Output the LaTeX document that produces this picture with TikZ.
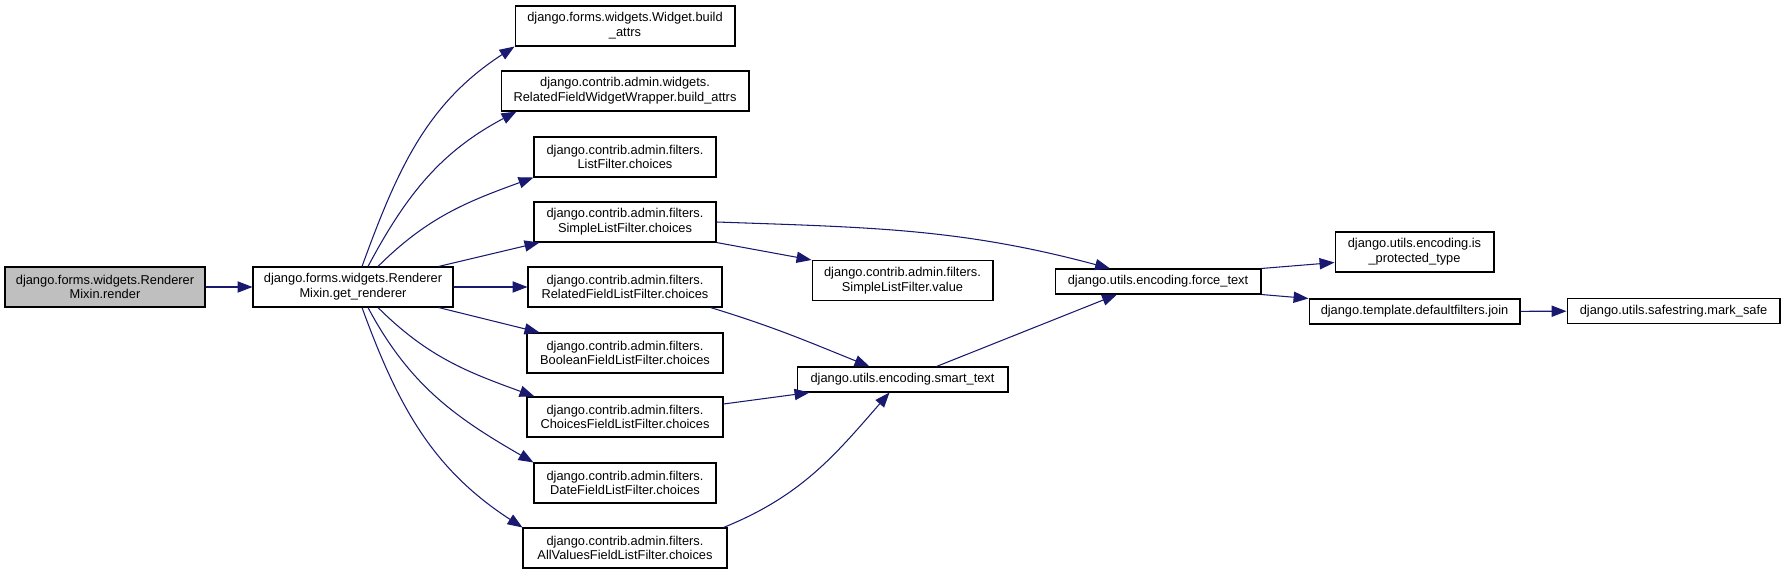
\documentclass[tikz,border=0pt]{standalone}
\usepackage{fontspec}
\setmainfont{Liberation Sans}
\usetikzlibrary{arrows.meta}
\definecolor{midnight}{RGB}{25,25,112}
\definecolor{focusgray}{RGB}{191,191,191}
\tikzset{
  fn/.style={rectangle, draw=black, line width=0.6pt, fill=white, inner xsep=2pt, inner ysep=1pt,
             minimum height=0.5cm, align=center, font=\fontsize{7.3pt}{8.4pt}\selectfont},
  fntwo/.style={fn, minimum height=0.8cm},
  fnfocus/.style={fntwo, fill=focusgray},
  call/.style={-{Triangle[length=8.5pt,width=6.4pt]}, line width=0.6pt, midnight},
}
\begin{document}
\begin{tikzpicture}[x=0.02cm, y=0.02cm]
\useasboundingbox (0,0) rectangle (1785,575);

\node[fnfocus, minimum width=4cm] (render) at (105,288) {django.forms.widgets.Renderer\\Mixin.render};
\node[fntwo, minimum width=4cm] (gr) at (353,288) {django.forms.widgets.Renderer\\Mixin.get\_renderer};

% callees of get_renderer
\node[fntwo, minimum width=4.4cm] (wba) at (625,549) {django.forms.widgets.Widget.build\\\_attrs};
\node[fntwo, minimum width=4.96cm] (rfw) at (625,484) {django.contrib.admin.widgets.\\RelatedFieldWidgetWrapper.build\_attrs};
\node[fntwo, minimum width=3.64cm] (lfc) at (625,418) {django.contrib.admin.filters.\\ListFilter.choices};
\node[fntwo, minimum width=3.64cm] (slfc) at (625,353) {django.contrib.admin.filters.\\SimpleListFilter.choices};
\node[fntwo, minimum width=3.88cm] (rflc) at (625,288) {django.contrib.admin.filters.\\RelatedFieldListFilter.choices};
\node[fntwo, minimum width=3.92cm] (bflc) at (625,222) {django.contrib.admin.filters.\\BooleanFieldListFilter.choices};
\node[fntwo, minimum width=3.92cm] (cflc) at (625,158) {django.contrib.admin.filters.\\ChoicesFieldListFilter.choices};
\node[fntwo, minimum width=3.64cm] (dflc) at (625,92) {django.contrib.admin.filters.\\DateFieldListFilter.choices};
\node[fntwo, minimum width=4.08cm] (avfc) at (625,27) {django.contrib.admin.filters.\\AllValuesFieldListFilter.choices};

\node[fntwo, minimum width=3.62cm] (slfv) at (902.5,294.5) {django.contrib.admin.filters.\\SimpleListFilter.value};
\node[fn, minimum width=4.22cm] (smart) at (902.5,195.5) {django.utils.encoding.smart\_text};
\node[fn, minimum width=4.12cm] (force) at (1158,293.5) {django.utils.encoding.force\_text};
\node[fntwo, minimum width=3.18cm] (ispt) at (1414.5,323) {django.utils.encoding.is\\\_protected\_type};
\node[fn, minimum width=4.22cm] (join) at (1414.5,263.5) {django.template.defaultfilters.join};
\node[fn, minimum width=4.26cm] (msafe) at (1673.5,264) {django.utils.safestring.mark\_safe};

\draw[call] (render) -- (gr);
\draw[call] ([xshift=0.18cm]gr.north) to[out=70,in=213] (wba.south west);
\draw[call] ([xshift=0.3cm]gr.north) to[out=62,in=208] ([xshift=0.32cm]rfw.south west);
\draw[call] ([xshift=0.5cm]gr.north) to[out=45,in=200] (lfc.south west);
\draw[call] ([xshift=-0.3cm]gr.north east) -- ([xshift=0.12cm]slfc.south west);
\draw[call] (gr) -- (rflc);
\draw[call] ([xshift=-0.3cm]gr.south east) -- ([xshift=0.26cm]bflc.north west);
\draw[call] ([xshift=0.5cm]gr.south) to[out=-45,in=160] ([xshift=0.16cm]cflc.north west);
\draw[call] ([xshift=0.3cm]gr.south) to[out=-62,in=150] (dflc.north west);
\draw[call] ([xshift=0.18cm]gr.south) to[out=-70,in=147] (avfc.north west);

\draw[call] (slfc.east) to[out=-2,in=165] ([xshift=-0.96cm]force.north);
\draw[call] (slfc.south east) -- (slfv.north west);
\draw[call] ([xshift=-0.24cm]rflc.south east) to[out=-17,in=158] ([xshift=-0.66cm]smart.north);
\draw[call] ([yshift=0.26cm]cflc.east) -- ([xshift=0.26cm]smart.south west);
\draw[call] ([xshift=-0.08cm]avfc.north east) to[out=22,in=229] ([xshift=-0.26cm]smart.south);
\draw[call] ([xshift=0.68cm]smart.north) -- ([xshift=-0.82cm]force.south);
\draw[call] (force.north east) -- ([yshift=0.2cm]ispt.south west);
\draw[call] (force.south east) -- (join.north west);
\draw[call] (join) -- (msafe);
\end{tikzpicture}
\end{document}
